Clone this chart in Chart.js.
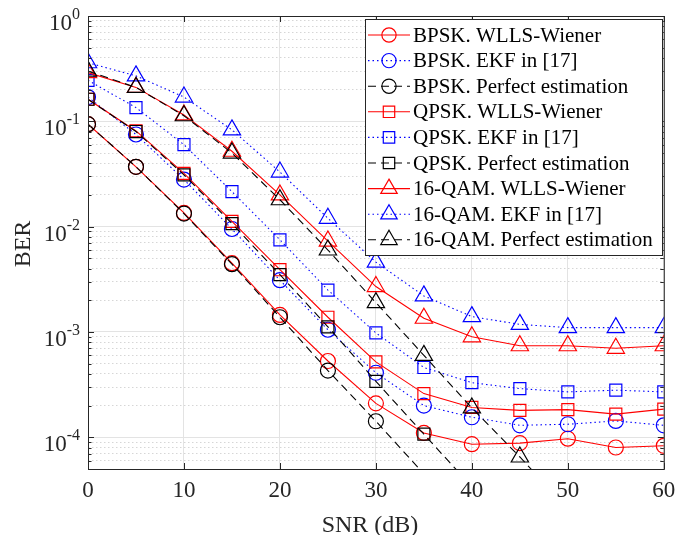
<!DOCTYPE html>
<html>
<head>
<meta charset="utf-8">
<script src="https://cdn.jsdelivr.net/npm/chart.js@4.4.0/dist/chart.umd.min.js"></script>
<style>
  html, body { margin: 0; padding: 0; background: #fff; }
</style>
</head>
<body>
<canvas id="berChart" width="675" height="535"></canvas>
<script>
// SNR points (dB)
const snr = [0, 5, 10, 15, 20, 25, 30, 35, 40, 45, 50, 55, 60];

// BER values (null = beyond the plot)
const bpskWlls    = [0.094, 0.037, 0.0135, 0.0045, 0.00145, 0.00053, 0.00021, 0.00011, 0.000086, 0.000088, 0.000097, 0.000080, 0.000083];
const bpskEkf     = [0.17, 0.075, 0.028, 0.0095, 0.0031, 0.00105, 0.00041, 0.0002, 0.000155, 0.00013, 0.000133, 0.000143, 0.00013];
const bpskPerfect = [0.094, 0.037, 0.0133, 0.0044, 0.00138, 0.00043, 0.000142, 0.000045, 0.0000145, null, null, null, null];
const qpskWlls    = [0.162, 0.081, 0.032, 0.0112, 0.0039, 0.00138, 0.00052, 0.00026, 0.000192, 0.00018, 0.000183, 0.000166, 0.000185];
const qpskEkf     = [0.245, 0.135, 0.06, 0.0215, 0.0075, 0.0025, 0.00098, 0.00046, 0.00033, 0.00029, 0.00027, 0.00028, 0.00027];
const qpskPerfect = [0.162, 0.08, 0.031, 0.0107, 0.0035, 0.00112, 0.00034, 0.000107, 0.000034, null, null, null, null];
const qamWlls     = [0.29, 0.21, 0.115, 0.052, 0.02, 0.0073, 0.0027, 0.00135, 0.0009, 0.00074, 0.00074, 0.0007, 0.00074];
const qamEkf      = [0.36, 0.27, 0.17, 0.083, 0.033, 0.012, 0.0046, 0.0022, 0.0014, 0.00118, 0.0011, 0.0011, 0.0011];
const qamPerfect  = [0.3, 0.21, 0.113, 0.05, 0.018, 0.006, 0.0019, 0.0006, 0.00019, 0.000065, 0.000021, null, null];

const seriesLabels = [
    'BPSK. WLLS-Wiener', 'BPSK. EKF in [17]', 'BPSK. Perfect estimation',
    'QPSK. WLLS-Wiener', 'QPSK. EKF in [17]', 'QPSK. Perfect estimation',
    '16-QAM. WLLS-Wiener', '16-QAM. EKF in [17]', '16-QAM. Perfect estimation'
];
const seriesValues = [bpskWlls, bpskEkf, bpskPerfect, qpskWlls, qpskEkf, qpskPerfect, qamWlls, qamEkf, qamPerfect];

// axis ticks
const xTicks = [0, 10, 20, 30, 40, 50, 60];
const yDecades = [-4, -3, -2, -1, 0];
const yMin = 5e-5;
const yMax = 1;

const SERIF = '"Liberation Serif", "Times New Roman", serif';
const AXIS_COLOR = '#262626';

// line style per method, marker per modulation
const methodStyle = [
    { color: '#ff0000', dash: [] },
    { color: '#0000ff', dash: [1.5, 3] },
    { color: '#000000', dash: [8, 5] }
];
const markerStyle = [
    { style: 'circle', radius: 7.5 },
    { style: 'rect', radius: 8.5 },
    { style: 'triangle', radius: 10 }
];

const datasets = seriesValues.map((values, i) => {
    const m = methodStyle[i % 3];
    const mk = markerStyle[Math.floor(i / 3)];
    return {
        label: seriesLabels[i],
        data: snr.map((x, j) => ({ x: x, y: values[j] })),
        borderColor: m.color,
        borderWidth: 1.1,
        borderDash: m.dash,
        pointStyle: mk.style,
        pointRadius: ctx => (ctx.raw && ctx.raw.y !== null && ctx.raw.y >= yMin ? mk.radius : 0),
        pointBorderWidth: 1.2,
        pointBorderColor: m.color,
        pointBackgroundColor: 'rgba(0,0,0,0)',
        pointHoverRadius: mk.radius,
        tension: 0,
        fill: false,
        spanGaps: false,
        order: 20 - i
    };
});

// grid tick values: 1..9 x 10^e inside the range
function buildLogTicks() {
    const ticks = [];
    for (let e = -5; e <= 0; e++) {
        for (let m = 1; m <= 9; m++) {
            const v = m * Math.pow(10, e);
            if (v >= yMin * 0.999 && v <= yMax * 1.001) {
                ticks.push({ value: v, major: m === 1 });
            }
        }
    }
    return ticks;
}

function drawMarker(ctx, style, r, x, y) {
    ctx.beginPath();
    if (style === 'circle') {
        ctx.arc(x, y, r, 0, Math.PI * 2);
    } else if (style === 'rect') {
        const s = Math.SQRT1_2 * r;
        ctx.rect(x - s, y - s, 2 * s, 2 * s);
    } else {
        const h = Math.PI * 2 / 3;
        ctx.moveTo(x, y - r);
        ctx.lineTo(x + Math.sin(h) * r, y - Math.cos(h) * r);
        ctx.lineTo(x + Math.sin(2 * h) * r, y - Math.cos(2 * h) * r);
        ctx.closePath();
    }
    ctx.stroke();
}

const frameAndLabels = {
    id: 'frameAndLabels',
    afterDraw(chart) {
        const ctx = chart.ctx;
        const area = chart.chartArea;
        const xs = chart.scales.x;
        const ys = chart.scales.y;
        ctx.save();

        // box
        ctx.strokeStyle = AXIS_COLOR;
        ctx.lineWidth = 1;
        ctx.setLineDash([]);
        ctx.strokeRect(area.left + 0.5, area.top + 0.5, area.right - area.left, area.bottom - area.top);

        // inward ticks
        ctx.beginPath();
        xTicks.forEach(v => {
            const px = Math.round(xs.getPixelForValue(v)) + 0.5;
            ctx.moveTo(px, area.bottom);
            ctx.lineTo(px, area.bottom - 6);
            ctx.moveTo(px, area.top);
            ctx.lineTo(px, area.top + 6);
        });
        buildLogTicks().forEach(t => {
            const py = Math.round(ys.getPixelForValue(t.value)) + 0.5;
            const len = t.major ? 6 : 3.5;
            ctx.moveTo(area.left, py);
            ctx.lineTo(area.left + len, py);
            ctx.moveTo(area.right, py);
            ctx.lineTo(area.right - len, py);
        });
        ctx.stroke();

        // y tick labels 10^e
        ctx.fillStyle = AXIS_COLOR;
        ctx.textBaseline = 'alphabetic';
        yDecades.forEach(e => {
            const py = ys.getPixelForValue(Math.pow(10, e));
            const expText = String(e);
            ctx.font = '16px ' + SERIF;
            const expW = ctx.measureText(expText).width;
            ctx.textAlign = 'left';
            ctx.fillText(expText, 80 - expW, py + 3);
            ctx.font = '23px ' + SERIF;
            ctx.textAlign = 'right';
            ctx.fillText('10', 80 - expW, py + 14);
        });

        // axis titles
        ctx.font = '24px ' + SERIF;
        ctx.textAlign = 'center';
        ctx.textBaseline = 'alphabetic';
        ctx.fillText('SNR (dB)', 370, 532);
        ctx.save();
        ctx.translate(30, 244);
        ctx.rotate(-Math.PI / 2);
        ctx.fillText('BER', 0, 0);
        ctx.restore();

        // legend
        const lx = 365, ly = 19, lw = 297, lh = 236;
        ctx.fillStyle = '#ffffff';
        ctx.fillRect(lx, ly, lw, lh);
        ctx.strokeStyle = AXIS_COLOR;
        ctx.lineWidth = 1;
        ctx.strokeRect(lx + 0.5, ly + 0.5, lw, lh);
        ctx.font = '21px ' + SERIF;
        ctx.textAlign = 'left';
        ctx.textBaseline = 'middle';
        chart.data.datasets.forEach((ds, i) => {
            const cy = 35 + i * 25.6;
            const mk = markerStyle[Math.floor(i / 3)];
            ctx.strokeStyle = ds.borderColor;
            ctx.lineWidth = ds.borderWidth;
            ctx.setLineDash(ds.borderDash);
            ctx.beginPath();
            ctx.moveTo(lx + 3, cy);
            ctx.lineTo(lx + 45, cy);
            ctx.stroke();
            ctx.setLineDash([]);
            ctx.lineWidth = ds.pointBorderWidth;
            drawMarker(ctx, mk.style, mk.radius * 0.95, lx + 24, cy);
            ctx.fillStyle = '#000000';
            ctx.fillText(ds.label, lx + 48, cy + 1);
        });
        ctx.restore();
    }
};

new Chart(document.getElementById('berChart'), {
    type: 'line',
    data: { datasets: datasets },
    options: {
        responsive: false,
        animation: false,
        devicePixelRatio: 1,
        layout: { padding: { left: 0, right: 11, top: 16, bottom: 0 } },
        plugins: {
            legend: { display: false },
            tooltip: { enabled: false }
        },
        scales: {
            x: {
                type: 'linear',
                min: 0,
                max: 60,
                afterBuildTicks: scale => {
                    scale.ticks = xTicks.map(v => ({ value: v }));
                },
                afterFit: scale => {
                    scale.height = 66;
                    scale.paddingLeft = 0;
                    scale.paddingRight = 0;
                },
                ticks: {
                    color: AXIS_COLOR,
                    font: { family: SERIF, size: 23 },
                    padding: 8,
                    maxRotation: 0
                },
                grid: {
                    color: '#e3e3e3',
                    lineWidth: 1,
                    drawTicks: false
                },
                border: { display: false }
            },
            y: {
                type: 'logarithmic',
                min: yMin,
                max: yMax,
                afterBuildTicks: scale => { scale.ticks = buildLogTicks(); },
                afterFit: scale => {
                    scale.width = 88;
                    scale.paddingTop = 0;
                    scale.paddingBottom = 0;
                },
                ticks: { display: false },
                grid: {
                    color: ctx => (ctx.tick && ctx.tick.major ? '#e3e3e3' : '#d6d6d6'),
                    lineWidth: 1,
                    drawTicks: false
                },
                border: {
                    display: false,
                    dash: ctx => (ctx.tick && !ctx.tick.major ? [1.5, 2.5] : [])
                }
            }
        }
    },
    plugins: [frameAndLabels]
});
</script>
</body>
</html>
